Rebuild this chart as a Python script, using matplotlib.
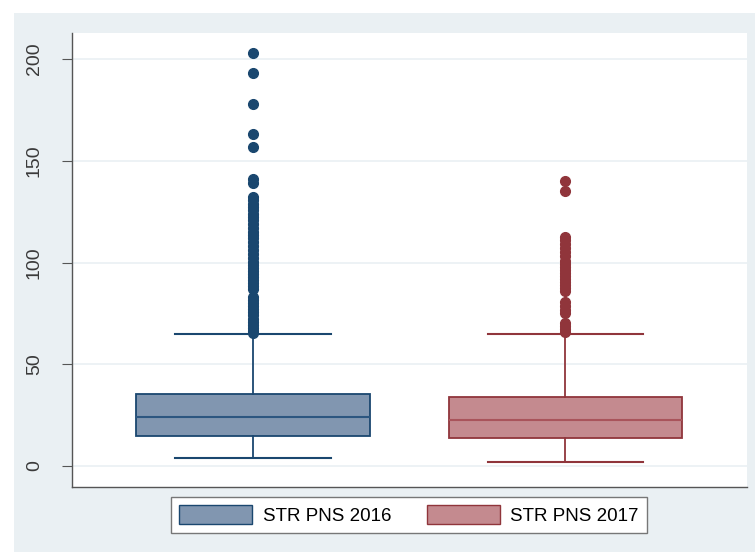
import matplotlib
matplotlib.use("Agg")
import matplotlib.pyplot as plt
from matplotlib.patches import Rectangle, Patch

plt.rcParams['font.family'] = ['Liberation Sans', 'DejaVu Sans']

# box summaries per year
groups = ["STR PNS 2016", "STR PNS 2017"]
q1 = [14.7, 13.8]
med = [24.0, 22.6]
q3 = [35.4, 34.0]
whislo = [4.0, 2.0]
whishi = [65.0, 65.0]
outliers_2016 = [203, 193, 178, 163, 157, 141, 139, 132, 130.5, 129, 127.5,
                 126, 124, 122.5, 121, 119, 117, 115, 113.5, 112, 110, 108,
                 106, 104, 102, 100.5, 99, 97.5, 96, 94.5, 93, 91.5, 90, 88.5,
                 87, 83, 81.5, 80, 78.5, 77, 75.5, 74, 72.5, 71, 69.5, 68,
                 66.5, 65.5]
outliers_2017 = [140, 135, 112.5, 111, 109, 107, 105, 103, 101, 99.5, 98,
                 96.5, 95, 93.5, 92, 90.5, 89, 87.5, 86, 80.5, 78.5, 76.5, 75,
                 70.5, 69, 67.5, 66]

line_cols = ["#1a476f", "#90353b"]
fill_cols = ["#8196b0", "#c48a8f"]
med_cols = ["#2c5680", "#a9545b"]

fig = plt.figure(figsize=(7.55, 5.52), dpi=100)
fig.patch.set_facecolor("white")
fig.add_artist(Rectangle((14 / 755, 0), 1, 1 - 13 / 552, transform=fig.transFigure,
                         facecolor="#eaf0f3", edgecolor="none", zorder=-10))

ax = fig.add_axes([72 / 755, 65 / 552, 675 / 755, 454 / 552])
ax.set_facecolor("white")

stats = []
for i in range(2):
    stats.append({"q1": q1[i], "med": med[i], "q3": q3[i],
                  "whislo": whislo[i], "whishi": whishi[i],
                  "fliers": [outliers_2016, outliers_2017][i]})

for i, st in enumerate(stats):
    c = line_cols[i]
    ax.bxp([st], positions=[i + 1], widths=0.747, capwidths=0.497,
           patch_artist=True, showfliers=True,
           boxprops=dict(facecolor=fill_cols[i], edgecolor=c, linewidth=1.3),
           medianprops=dict(color=med_cols[i], linewidth=1.5),
           whiskerprops=dict(color=c, linewidth=1.3),
           capprops=dict(color=c, linewidth=1.5),
           flierprops=dict(marker="o", markerfacecolor=c, markeredgecolor=c,
                           markersize=7))

ax.set_xlim(0.42, 2.583)
ax.set_ylim(-10.3, 212.8)
ax.set_xticks([])
ax.set_yticks([0, 50, 100, 150, 200])
ax.set_yticklabels(["0", "50", "100", "150", "200"], rotation=90, va="center",
                   fontsize=14, color="#3a3a3a")
ax.tick_params(axis="y", length=7, width=0.8, color="#555555", pad=14)
ax.yaxis.grid(True, color="#eaf0f3", linewidth=1.2)
ax.set_axisbelow(True)
for s in ["top", "right"]:
    ax.spines[s].set_visible(False)
for s in ["left", "bottom"]:
    ax.spines[s].set_color("#555555")
    ax.spines[s].set_linewidth(1.0)

handles = [Patch(facecolor=fill_cols[i], edgecolor=line_cols[i], label=groups[i])
           for i in range(2)]
leg = fig.legend(handles=handles, loc="center", ncol=2,
                 bbox_to_anchor=(409 / 755, 1 - 515 / 552), fontsize=13.5,
                 frameon=True, fancybox=False, framealpha=1,
                 handlelength=3.9, handleheight=1.2,
                 columnspacing=1.9, handletextpad=0.55, borderpad=0.45)
leg.get_frame().set_edgecolor("#777777")
leg.get_frame().set_linewidth(1.0)

fig.savefig("out.png", dpi=100)
